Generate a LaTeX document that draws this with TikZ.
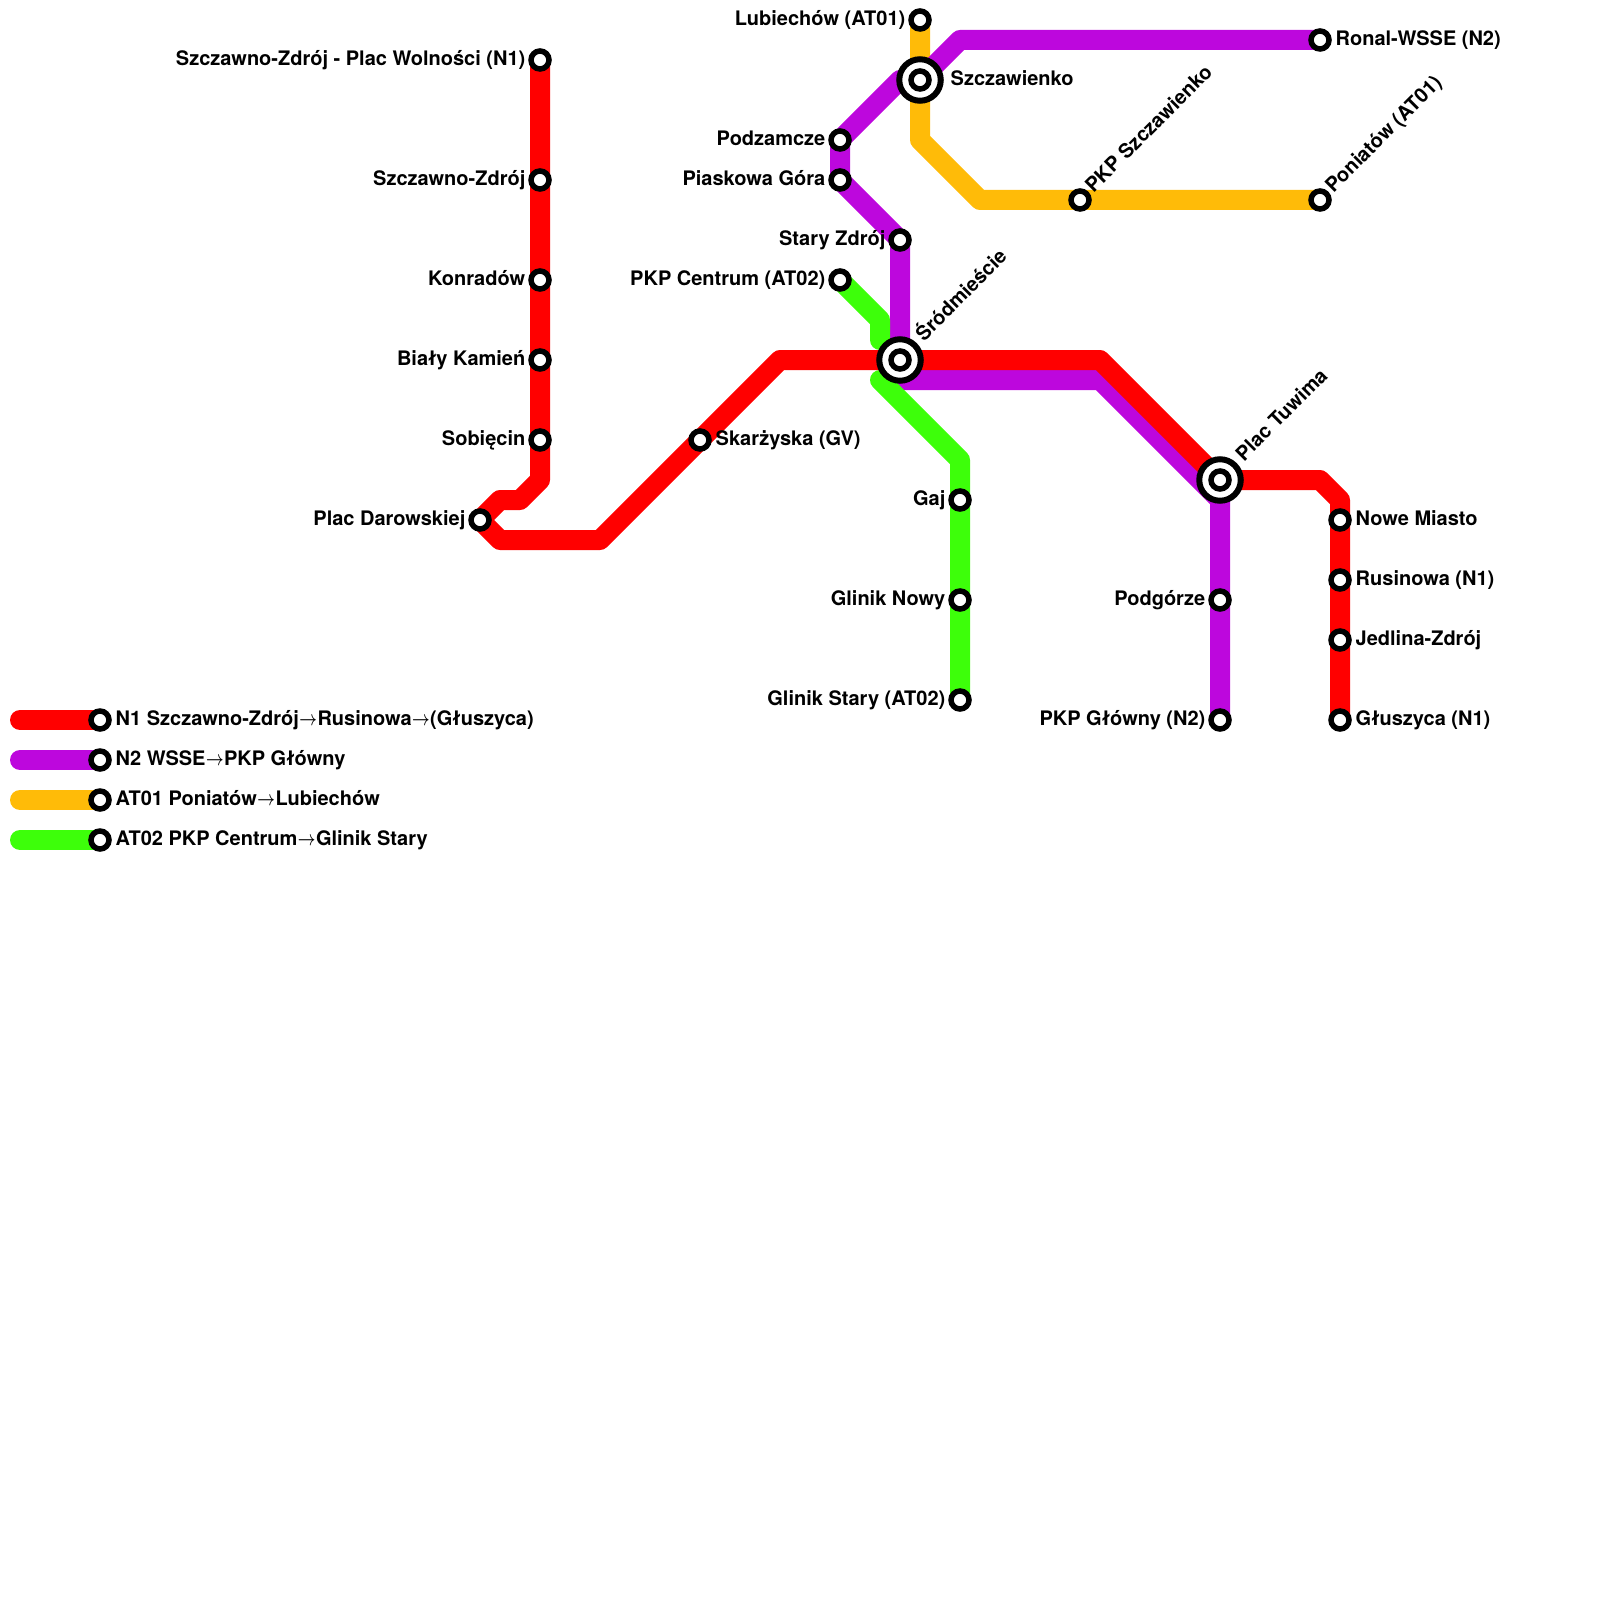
\documentclass[tikz,border=0pt]{standalone}
\usepackage{fontspec}
\setmainfont{TeX Gyre Heros}
\usetikzlibrary{backgrounds}
\definecolor{linered}{RGB}{255,0,0}
\definecolor{linepurple}{RGB}{189,7,221}
\definecolor{lineyellow}{RGB}{255,187,8}
\definecolor{linegreen}{RGB}{61,255,10}
\newcommand{\dirarrow}{\scalebox{0.72}[1]{$\rightarrow$}}
\tikzset{
  track/.style={line width=2mm,line cap=round,line join=round},
  station/.style={circle,draw=black,fill=white,line width=0.55mm,minimum size=1.8mm,inner sep=0pt,outer sep=0pt},
  hub/.style={circle,draw=black,fill=white,line width=0.6mm,minimum size=4.15mm,inner sep=0pt,outer sep=0pt},
  txt/.style={font=\bfseries\fontsize{5.69pt}{7pt}\selectfont,inner sep=0pt},
  lblleft/.style={txt,anchor=base east,xshift=-1.4mm,yshift=-0.55mm},
  lblright/.style={txt,anchor=base west,xshift=1.5mm,yshift=-0.55mm},
  lblrot/.style={txt,anchor=base west,xshift=1.3mm,yshift=0.6mm,rotate=45},
  lblhub/.style={txt,anchor=base west,xshift=2.35mm,yshift=1.75mm,rotate=45}
}
\begin{document}
\begin{tikzpicture}[x=1mm,y=-1mm]
  \useasboundingbox (0,0) rectangle (160,160);
  % N1
  \node[station] (placwolnosci) at (54,6) {};
  \node[station] (szczawnozdroj) at (54,18) {};
  \node[station] (konradow) at (54,28) {};
  \node[station] (bialykamien) at (54,36) {};
  \node[station] (sobiecin) at (54,44) {};
  \node[station] (darowskiej) at (48,52) {};
  \node[station] (skarzyska) at (70,44) {};
  \node[hub] (srodmiescie) at (90,36) {};
  \node[station] (srodmiescieb) at (90,36) {};
  \node[hub] (tuwima) at (122,48) {};
  \node[station] (tuwimab) at (122,48) {};
  \node[station] (nowemiasto) at (134,52) {};
  \node[station] (rusinowa) at (134,58) {};
  \node[station] (jedlina) at (134,64) {};
  \node[station] (gluszyca) at (134,72) {};
  % N2
  \node[station] (ronal) at (132,4) {};
  \node[hub] (szczawienko) at (92,8) {};
  \node[station] (szczawienkob) at (92,8) {};
  \node[station] (podzamcze) at (84,14) {};
  \node[station] (piaskowa) at (84,18) {};
  \node[station] (staryzdroj) at (90,24) {};
  \node[station] (podgorze) at (122,60) {};
  \node[station] (pkpglowny) at (122,72) {};
  % AT01
  \node[station] (lubiechow) at (92,2) {};
  \node[station] (pkpszczawienko) at (108,20) {};
  \node[station] (poniatow) at (132,20) {};
  % AT02
  \node[station] (pkpcentrum) at (84,28) {};
  \node[station] (gaj) at (96,50) {};
  \node[station] (gliniknowy) at (96,60) {};
  \node[station] (glinikstary) at (96,70) {};
  % legend
  \node[station] (legone) at (10,72) {};
  \node[station] (legtwo) at (10,76) {};
  \node[station] (legthree) at (10,80) {};
  \node[station] (legfour) at (10,84) {};
  \coordinate (legonestart) at (2,72);
  \coordinate (legtwostart) at (2,76);
  \coordinate (legthreestart) at (2,80);
  \coordinate (legfourstart) at (2,84);
  \begin{scope}[on background layer]
    \draw[track,lineyellow] (lubiechow.center) -- (szczawienko.center) -- (92,14) -- (98,20) -- (pkpszczawienko.center) -- (poniatow.center);
    \draw[track,linepurple] (ronal.center) -- (96,4) -- (szczawienko.center) -- (90,8) -- (podzamcze.center) -- (piaskowa.center) -- (staryzdroj.center) -- (srodmiescie.center) -- (90,38) -- (110,38) -- (122,50) -- (podgorze.center) -- (pkpglowny.center);
    \draw[track,linegreen] (pkpcentrum.center) -- (88,32) -- (88,34);
    \draw[track,linegreen] (88,38) -- (96,46) -- (gaj.center) -- (gliniknowy.center) -- (glinikstary.center);
    \draw[track,linered] (placwolnosci.center) -- (szczawnozdroj.center) -- (konradow.center) -- (bialykamien.center) -- (sobiecin.center) -- (54,48) -- (52,50) -- (50,50) -- (darowskiej.center) -- (50,54) -- (60,54) -- (skarzyska.center) -- (78,36) -- (srodmiescie.center) -- (110,36) -- (tuwima.center) -- (132,48) -- (134,50) -- (nowemiasto.center) -- (rusinowa.center) -- (jedlina.center) -- (gluszyca.center);
    \draw[track,linered] (legonestart) -- (legone.center);
    \draw[track,linepurple] (legtwostart) -- (legtwo.center);
    \draw[track,lineyellow] (legthreestart) -- (legthree.center);
    \draw[track,linegreen] (legfourstart) -- (legfour.center);
  \end{scope}
  \node[lblleft] (placwolnoscitxt) at (placwolnosci) {Szczawno-Zdrój - Plac Wolności (N1)};
  \node[lblleft] (szczawnozdrojtxt) at (szczawnozdroj) {Szczawno-Zdrój};
  \node[lblleft] (konradowtxt) at (konradow) {Konradów};
  \node[lblleft] (bialykamientxt) at (bialykamien) {Biały Kamień};
  \node[lblleft] (sobiecintxt) at (sobiecin) {Sobięcin};
  \node[lblleft] (darowskiejtxt) at (darowskiej) {Plac Darowskiej};
  \node[lblright] (skarzyskatxt) at (skarzyska) {Skarżyska (GV)};
  \node[lblhub] (srodmiescietxt) at (srodmiescie) {Śródmieście};
  \node[lblhub] (tuwimatxt) at (tuwima) {Plac Tuwima};
  \node[lblright] (nowemiastotxt) at (nowemiasto) {Nowe Miasto};
  \node[lblright] (rusinowatxt) at (rusinowa) {Rusinowa (N1)};
  \node[lblright] (jedlinatxt) at (jedlina) {Jedlina-Zdrój};
  \node[lblright] (gluszycatxt) at (gluszyca) {Głuszyca (N1)};
  \node[lblright] (ronaltxt) at (ronal) {Ronal-WSSE (N2)};
  \node[lblright,xshift=1.5mm] (szczawienkotxt) at (szczawienko) {Szczawienko};
  \node[lblleft] (podzamczetxt) at (podzamcze) {Podzamcze};
  \node[lblleft] (piaskowatxt) at (piaskowa) {Piaskowa Góra};
  \node[lblleft] (staryzdrojtxt) at (staryzdroj) {Stary Zdrój};
  \node[lblleft] (podgorzetxt) at (podgorze) {Podgórze};
  \node[lblleft] (pkpglownytxt) at (pkpglowny) {PKP Główny (N2)};
  \node[lblleft] (lubiechowtxt) at (lubiechow) {Lubiechów (AT01)};
  \node[lblrot] (pkpszczawienkotxt) at (pkpszczawienko) {PKP Szczawienko};
  \node[lblrot] (poniatowtxt) at (poniatow) {Poniatów (AT01)};
  \node[lblleft] (pkpcentrumtxt) at (pkpcentrum) {PKP Centrum (AT02)};
  \node[lblleft] (gajtxt) at (gaj) {Gaj};
  \node[lblleft] (gliniknowytxt) at (gliniknowy) {Glinik Nowy};
  \node[lblleft] (glinikstarytxt) at (glinikstary) {Glinik Stary (AT02)};
  \node[lblright] (legonetxt) at (legone) {N1 Szczawno-Zdrój\dirarrow Rusinowa\dirarrow(Głuszyca)};
  \node[lblright] (legtwotxt) at (legtwo) {N2 WSSE\dirarrow PKP Główny};
  \node[lblright] (legthreetxt) at (legthree) {AT01 Poniatów\dirarrow Lubiechów};
  \node[lblright] (legfourtxt) at (legfour) {AT02 PKP Centrum\dirarrow Glinik Stary};
\end{tikzpicture}
\end{document}
